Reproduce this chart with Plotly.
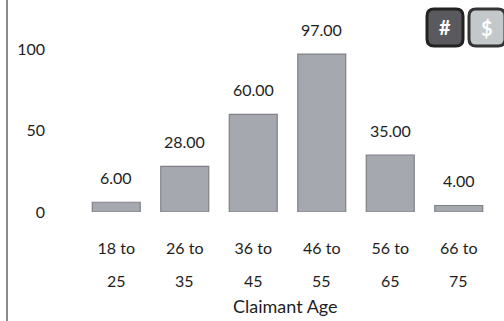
import plotly.graph_objects as go

# Claimant counts by age band
age_line1 = ["18 to", "26 to", "36 to", "46 to", "56 to", "66 to"]
age_line2 = ["25", "35", "45", "55", "65", "75"]
counts = [6, 28, 60, 97, 35, 4]
y_ticks = [0, 50, 100]

W, H = 504, 321
ML, MR, MT, MB = 82, 11, 28, 109
PW, PH = W - ML - MR, H - MT - MB
FONT = "Lato, Open Sans, sans-serif"
TXT = "#1e1e1e"


def px(xp):
    return (xp - ML) / PW


def py(yp):
    return (H - MB - yp) / PH


def rounded(x0, y0, x1, y1, r):
    # rounded rectangle path in paper coordinates, given pixel corners
    rx, ry = r / PW, r / PH
    a, b, c, d = px(x0), py(y1), px(x1), py(y0)
    return (f"M {a+rx},{b} L {c-rx},{b} Q {c},{b} {c},{b+ry} L {c},{d-ry} "
            f"Q {c},{d} {c-rx},{d} L {a+rx},{d} Q {a},{d} {a},{d-ry} "
            f"L {a},{b+ry} Q {a},{b} {a+rx},{b} Z")


cats = list(range(len(counts)))

fig = go.Figure(go.Bar(
    x=cats, y=counts,
    marker=dict(color="#a6a8b0", line=dict(color="#7f8086", width=1.2)),
    width=0.7,
))

# value labels sit well above each bar
annotations = [
    dict(x=c, y=v, xref="x", yref="y", text=f"{v:.2f}", showarrow=False,
         xanchor="center", yanchor="middle", yshift=25,
         font=dict(family=FONT, size=16, color=TXT))
    for c, v in zip(cats, counts)
]
annotations += [
    dict(x=c, y=py(280), xref="x", yref="paper", text=t, showarrow=False,
         xanchor="center", yanchor="middle",
         font=dict(family=FONT, size=16, color=TXT))
    for c, t in zip(cats, age_line2)
]
annotations.append(dict(x=px(285), y=py(306), xref="paper", yref="paper",
                        xanchor="center", yanchor="middle",
                        text="Claimant Age", showarrow=False,
                        font=dict(family=FONT, size=18, color=TXT)))
annotations.append(dict(x=px(445), y=py(27), xref="paper", yref="paper",
                        xanchor="center", yanchor="middle",
                        text="<b>#</b>", showarrow=False,
                        font=dict(family=FONT, size=20, color="#fff")))
annotations.append(dict(x=px(487), y=py(28), xref="paper", yref="paper",
                        xanchor="center", yanchor="middle",
                        text="<b>$</b>", showarrow=False,
                        font=dict(family=FONT, size=20, color="#fff")))

shapes = [
    dict(type="line", xref="paper", yref="paper", x0=px(7), x1=px(7),
         y0=py(0), y1=py(H), line=dict(color="#8a8a8a", width=2)),
    dict(type="path", xref="paper", yref="paper", path=rounded(427, 9, 463, 46, 7),
         fillcolor="#5a5a5e", line=dict(color="#222", width=3)),
    dict(type="path", xref="paper", yref="paper", path=rounded(469, 9, 505, 46, 7),
         fillcolor="#c3c9ca", line=dict(color="#333", width=3)),
]

fig.update_layout(
    width=W, height=H,
    margin=dict(l=ML, r=MR, t=MT, b=MB),
    paper_bgcolor="white", plot_bgcolor="white",
    showlegend=False,
    xaxis=dict(tickmode="array", tickvals=cats, ticktext=age_line1,
               range=[-0.5, 5.5], showgrid=False, zeroline=False, showline=False,
               ticks="", tickfont=dict(family=FONT, size=16, color=TXT),
               ticklabelstandoff=25),
    yaxis=dict(tickmode="array", tickvals=y_ticks, range=[0, 113],
               showgrid=False, zeroline=False, showline=False, ticks="",
               tickfont=dict(family=FONT, size=16, color=TXT),
               ticklabelstandoff=36),
    annotations=annotations, shapes=shapes,
)

fig.write_html("out.html")
